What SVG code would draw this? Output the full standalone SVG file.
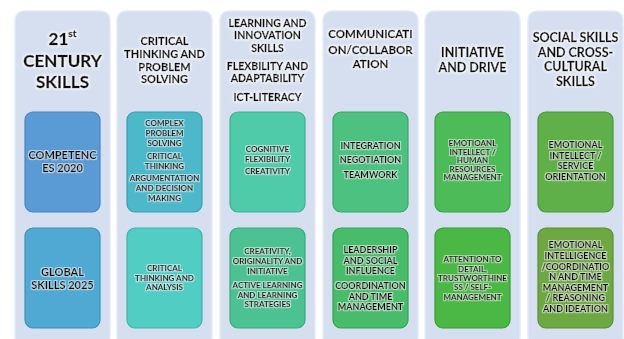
<svg xmlns="http://www.w3.org/2000/svg" width="624" height="339" viewBox="0 0 624 339">
<defs>
<filter id="halo" x="-15%" y="-40%" width="130%" height="180%">
<feMorphology in="SourceAlpha" operator="dilate" radius="1.3" result="d"/>
<feGaussianBlur in="d" stdDeviation="0.8" result="b"/>
<feFlood flood-color="#ffffff" flood-opacity="0.85"/>
<feComposite in2="b" operator="in" result="h"/>
<feMerge><feMergeNode in="h"/><feMergeNode in="SourceGraphic"/></feMerge>
</filter>
<filter id="halo2" x="-15%" y="-40%" width="130%" height="180%">
<feMorphology in="SourceAlpha" operator="dilate" radius="0.7" result="d"/>
<feGaussianBlur in="d" stdDeviation="0.6" result="b"/>
<feFlood flood-color="#ffffff" flood-opacity="0.55"/>
<feComposite in2="b" operator="in" result="h"/>
<feMerge><feMergeNode in="h"/><feMergeNode in="SourceGraphic"/></feMerge>
</filter>
<style>
.panel{fill:#d6dff0;stroke:#e4eaf6;stroke-width:1.5}
.box{stroke-width:1.2}
text{font-family:Lato,"Liberation Sans",sans-serif;font-weight:bold;fill:#111111;text-anchor:middle;stroke:#111111}
.h1,.h2,.h3,.h4,.h5{filter:url(#halo);stroke-width:0.4}
.b11,.b9,.b8{filter:url(#halo2);stroke-width:0.25}
.h1{font-size:17px;stroke-width:0.5}
.h2{font-size:11px}
.h3{font-size:10.5px}
.h4{font-size:11.5px}
.h5{font-size:12.5px}
.b11{font-size:11px}
.b9{font-size:9px}
.b8{font-size:8px}
</style>
</defs>
<rect width="624" height="339" fill="#ffffff"/>

<g id="col1">
<rect class="panel" x="15" y="11" width="95" height="335" rx="9"/>
<text class="h1" x="62.5" y="45">21<tspan font-size="10" dy="-8">st</tspan></text>
<text class="h1" x="62.5" y="67">CENTURY</text>
<text class="h1" x="62.5" y="88">SKILLS</text>
</g>
<g id="competences2020">
<rect class="box" x="25" y="112" width="75" height="100" rx="8" fill="#5b9bd5" stroke="#4a85bd"/>
<text class="b11" x="62.5" y="159">COMPETENC</text>
<text class="b11" x="62.5" y="172">ES 2020</text>
</g>
<g id="globalskills2025">
<rect class="box" x="25" y="228" width="75" height="100" rx="8" fill="#4fa9d2" stroke="#3f90b8"/>
<text class="b11" x="62.5" y="276">GLOBAL</text>
<text class="b11" x="62.5" y="289">SKILLS 2025</text>
</g>

<g id="col2">
<rect class="panel" x="117" y="11" width="95" height="335" rx="9"/>
<text class="h2" x="164.5" y="45">CRITICAL</text>
<text class="h2" x="164.5" y="58">THINKING AND</text>
<text class="h2" x="164.5" y="71">PROBLEM</text>
<text class="h2" x="164.5" y="83">SOLVING</text>
</g>
<g id="c2r1">
<rect class="box" x="127" y="112" width="75" height="100" rx="8" fill="#4db8c9" stroke="#3a9fb0"/>
<text class="b8" x="164.5" y="126">COMPLEX</text>
<text class="b8" x="164.5" y="136">PROBLEM</text>
<text class="b8" x="164.5" y="146">SOLVING</text>
<text class="b8" x="164.5" y="159">CRITICAL</text>
<text class="b8" x="164.5" y="169">THINKING</text>
<text class="b8" x="164.5" y="181">ARGUMENTATION</text>
<text class="b8" x="164.5" y="191">AND DECISION</text>
<text class="b8" x="164.5" y="201">MAKING</text>
</g>
<g id="c2r2">
<rect class="box" x="127" y="228" width="75" height="100" rx="8" fill="#52cdc4" stroke="#40b3aa"/>
<text class="b8" x="164.5" y="271">CRITICAL</text>
<text class="b8" x="164.5" y="280.5">THINKING AND</text>
<text class="b8" x="164.5" y="290">ANALYSIS</text>
</g>

<g id="col3">
<rect class="panel" x="220" y="11" width="95" height="335" rx="9"/>
<text class="h3" x="267.5" y="27">LEARNING AND</text>
<text class="h3" x="267.5" y="39">INNOVATION</text>
<text class="h3" x="267.5" y="52">SKILLS</text>
<text class="h3" x="267.5" y="70">FLEXBILITY AND</text>
<text class="h3" x="267.5" y="82">ADAPTABILITY</text>
<text class="h3" x="267.5" y="101">ICT-LITERACY</text>
</g>
<g id="c3r1">
<rect class="box" x="230" y="112" width="75" height="100" rx="8" fill="#4fcbaa" stroke="#3db091"/>
<text class="b8" x="267.5" y="152">COGNITIVE</text>
<text class="b8" x="267.5" y="162">FLEXIBILITY</text>
<text class="b8" x="267.5" y="174">CREATIVITY</text>
</g>
<g id="c3r2">
<rect class="box" x="230" y="228" width="75" height="100" rx="8" fill="#4cc292" stroke="#3aa87a"/>
<text class="b8" x="267.5" y="254">CREATIVITY,</text>
<text class="b8" x="267.5" y="264">ORIGINALITY AND</text>
<text class="b8" x="267.5" y="274">INITIATIVE</text>
<text class="b8" x="267.5" y="288">ACTIVE LEARNING</text>
<text class="b8" x="267.5" y="298">AND LEARNING</text>
<text class="b8" x="267.5" y="307">STRATEGIES</text>
</g>

<g id="col4">
<rect class="panel" x="323" y="11" width="95" height="335" rx="9"/>
<text class="h4" x="370.5" y="38">COMMUNICATI</text>
<text class="h4" x="370.5" y="54">ON/COLLABOR</text>
<text class="h4" x="370.5" y="68">ATION</text>
</g>
<g id="c4r1">
<rect class="box" x="333" y="112" width="75" height="100" rx="8" fill="#4cc180" stroke="#3aa66a"/>
<text class="b9" x="370.5" y="149">INTEGRATION</text>
<text class="b9" x="370.5" y="163">NEGOTIATION</text>
<text class="b9" x="370.5" y="178">TEAMWORK</text>
</g>
<g id="c4r2">
<rect class="box" x="333" y="228" width="75" height="100" rx="8" fill="#48bc6a" stroke="#379f55"/>
<text class="b9" x="370.5" y="253">LEADERSHIP</text>
<text class="b9" x="370.5" y="263.5">AND SOCIAL</text>
<text class="b9" x="370.5" y="274">INFLUENCE</text>
<text class="b9" x="370.5" y="289">COORDINATION</text>
<text class="b9" x="370.5" y="299.5">AND TIME</text>
<text class="b9" x="370.5" y="310">MANAGEMENT</text>
</g>

<g id="col5">
<rect class="panel" x="425" y="11" width="95" height="335" rx="9"/>
<text class="h5" x="472.5" y="57">INITIATIVE</text>
<text class="h5" x="472.5" y="72">AND DRIVE</text>
</g>
<g id="c5r1">
<rect class="box" x="435" y="112" width="75" height="100" rx="8" fill="#4cbb58" stroke="#3a9f46"/>
<text class="b8" x="472.5" y="146">EMOTIOANL</text>
<text class="b8" x="472.5" y="154.5">INTELLECT /</text>
<text class="b8" x="472.5" y="163">HUMAN</text>
<text class="b8" x="472.5" y="171.5">RESOURCES</text>
<text class="b8" x="472.5" y="180">MANAGEMENT</text>
</g>
<g id="c5r2">
<rect class="box" x="435" y="228" width="75" height="100" rx="8" fill="#4bb845" stroke="#3a9c35"/>
<text class="b8" x="472.5" y="262">ATTENTION TO</text>
<text class="b8" x="472.5" y="271.5">DETAIL,</text>
<text class="b8" x="472.5" y="281">TRUSTWORTHINE</text>
<text class="b8" x="472.5" y="290">SS / SELF-</text>
<text class="b8" x="472.5" y="299.5">MANAGEMENT</text>
</g>

<g id="col6">
<rect class="panel" x="528" y="11" width="95" height="335" rx="9"/>
<text class="h5" x="575.5" y="42">SOCIAL SKILLS</text>
<text class="h5" x="575.5" y="57">AND CROSS-</text>
<text class="h5" x="575.5" y="71">CULTURAL</text>
<text class="h5" x="575.5" y="86">SKILLS</text>
</g>
<g id="c6r1">
<rect class="box" x="538" y="112" width="75" height="100" rx="8" fill="#60b049" stroke="#4c953a"/>
<text class="b9" x="575.5" y="148">EMOTIONAL</text>
<text class="b9" x="575.5" y="159">INTELLECT /</text>
<text class="b9" x="575.5" y="169">SERVICE</text>
<text class="b9" x="575.5" y="180">ORIENTATION</text>
</g>
<g id="c6r2">
<rect class="box" x="538" y="228" width="75" height="100" rx="8" fill="#6ea842" stroke="#5a8f33"/>
<text class="b9" x="575.5" y="248">EMOTIONAL</text>
<text class="b9" x="575.5" y="259">INTELLIGENCE</text>
<text class="b9" x="575.5" y="269.5">/COORDINATIO</text>
<text class="b9" x="575.5" y="280">N AND TIME</text>
<text class="b9" x="575.5" y="291">MANAGEMENT</text>
<text class="b9" x="575.5" y="301">/ REASONING</text>
<text class="b9" x="575.5" y="312">AND IDEATION</text>
</g>

<g id="connectors"></g>
</svg>
